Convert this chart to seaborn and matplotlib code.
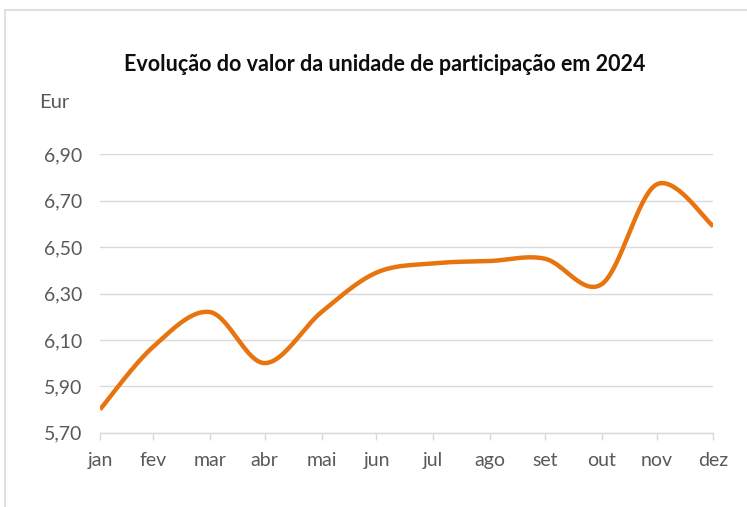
import numpy as np
import pandas as pd
import matplotlib
matplotlib.use("Agg")
import matplotlib.pyplot as plt
import matplotlib.dates as mdates
from matplotlib.lines import Line2D
import seaborn as sns

# ---- data ----
dates = ["2024-01-31", "2024-02-29", "2024-03-31", "2024-04-30", "2024-05-31", "2024-06-30",
         "2024-07-31", "2024-08-31", "2024-09-30", "2024-10-31", "2024-11-30", "2024-12-31"]
month_labels = ["jan", "fev", "mar", "abr", "mai", "jun", "jul", "ago", "set", "out", "nov", "dez"]
values = [5.80, 6.07, 6.22, 6.00, 6.22, 6.39, 6.43, 6.44, 6.45, 6.34, 6.77, 6.59]
y_ticks = [5.70, 5.90, 6.10, 6.30, 6.50, 6.70, 6.90]
y_tick_labels = ["5,70", "5,90", "6,10", "6,30", "6,50", "6,70", "6,90"]
title = "Evolução do valor da unidade de participação em 2024"
unit_label = "Eur"

sns.set_theme(style="white")
plt.rcParams["font.family"] = ["Lato", "DejaVu Sans"]

xnum = mdates.date2num(pd.to_datetime(dates))
yv = np.array(values)

# Excel-style smoothed line (cubic Bezier, Catmull-Rom control points)
def smooth(x, y, n=60):
    pts = np.column_stack([x, y])
    out = []
    for i in range(len(pts) - 1):
        p0 = pts[i - 1] if i > 0 else pts[i]
        p1 = pts[i]
        p2 = pts[i + 1]
        p3 = pts[i + 2] if i + 2 < len(pts) else pts[i + 1]
        c1 = p1 + (p2 - p0) / 6.0
        c2 = p2 - (p3 - p1) / 6.0
        t = np.linspace(0, 1, n, endpoint=(i == len(pts) - 2))[:, None]
        seg = ((1 - t) ** 3) * p1 + 3 * ((1 - t) ** 2) * t * c1 + 3 * (1 - t) * t ** 2 * c2 + t ** 3 * p2
        out.append(seg)
    s = np.vstack(out)
    return s[:, 0], s[:, 1]

sx, sy = smooth(xnum, yv)
curve = pd.DataFrame({"x": sx, "y": sy})

fig = plt.figure(figsize=(7.47, 5.07), dpi=100)
ax = fig.add_axes([100 / 747, (507 - 432.7) / 507, (713.3 - 100) / 747, (432.7 - 154.3) / 507])

sns.lineplot(data=curve, x="x", y="y", sort=False, color="#E8740F", linewidth=3.2,
             solid_capstyle="butt", ax=ax)

ax.set_xlim(xnum[0], xnum[-1])
ax.set_ylim(y_ticks[0], y_ticks[-1])
ax.set_yticks(y_ticks)
ax.set_yticklabels(y_tick_labels)
ax.set_xticks(xnum)
ax.set_xticklabels(month_labels)
ax.set_xlabel("")
ax.set_ylabel("")

ax.grid(axis="y", color="#D9D9D9", linewidth=1.0)
ax.set_axisbelow(True)
for side in ["top", "right", "left"]:
    ax.spines[side].set_visible(False)
ax.spines["bottom"].set_color("#D9D9D9")
ax.spines["bottom"].set_linewidth(1.0)
ax.tick_params(axis="x", which="major", direction="out", length=5, width=1.0, color="#D9D9D9",
               labelsize=14, labelcolor="#595959", pad=9, bottom=True)
ax.tick_params(axis="y", length=0, labelsize=14, labelcolor="#595959", pad=13)

fig.text(385 / 747, 1 - 71 / 507, title, ha="center", va="baseline", fontsize=15.5,
         fontweight="bold", color="#0D0D0D")
fig.text(39 / 747, 1 - 108 / 507, unit_label, ha="left", va="baseline", fontsize=14.5, color="#595959")

# outer chart border (partially visible)
fig.add_artist(Line2D([5 / 747, 1], [1 - 10 / 507, 1 - 10 / 507], transform=fig.transFigure,
                      color="#D9D9D9", linewidth=1.2))
fig.add_artist(Line2D([5 / 747, 5 / 747], [0, 1 - 10 / 507], transform=fig.transFigure,
                      color="#D9D9D9", linewidth=1.2))

fig.savefig("out.png", dpi=100)
